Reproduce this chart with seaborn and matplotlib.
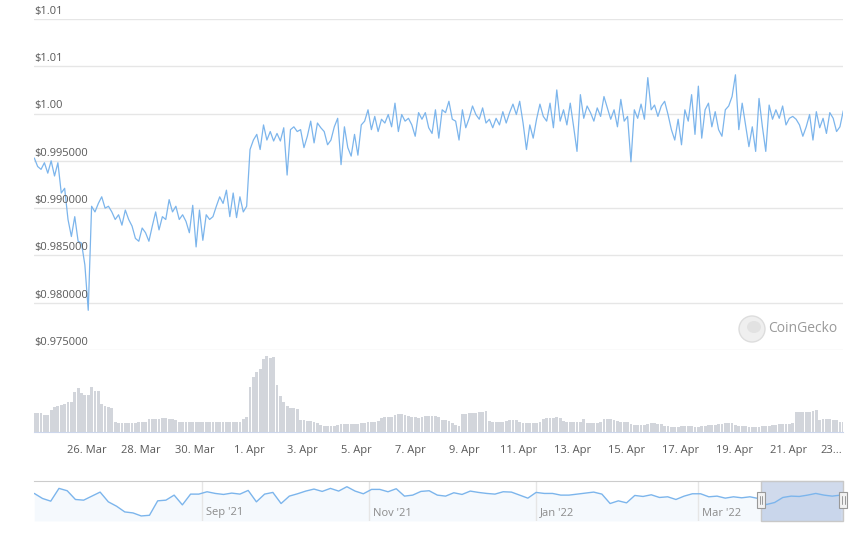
# -*- coding: utf-8 -*-
# Stablecoin price chart, CoinGecko style: price line, volume bars, navigator

import pandas as pd
import numpy as np
import matplotlib
matplotlib.use("Agg")
import matplotlib.pyplot as plt
import matplotlib.dates as mdates
import matplotlib.patches as mpatches
import matplotlib.transforms as mtransforms
import seaborn as sns

### data (3-hourly, from 24 Mar 2022 01:00) ###
price = [
    0.9953, 0.9944, 0.9941, 0.9948, 0.9937, 0.9950, 0.9934, 0.9948, 0.9916, 0.9921,
    0.9888, 0.9870, 0.9891, 0.9865, 0.9863, 0.9840, 0.9792, 0.9902, 0.9896, 0.9905,
    0.9912, 0.9900, 0.9902, 0.9896, 0.9888, 0.9893, 0.9882, 0.9898, 0.9888, 0.9881,
    0.9868, 0.9865, 0.9879, 0.9874, 0.9865, 0.9881, 0.9896, 0.9877, 0.9891, 0.9888,
    0.9909, 0.9896, 0.9902, 0.9888, 0.9893, 0.9886, 0.9874, 0.9903, 0.9859, 0.9898,
    0.9866, 0.9893, 0.9888, 0.9891, 0.9902, 0.9912, 0.9905, 0.9919, 0.9891, 0.9916,
    0.9890, 0.9912, 0.9896, 0.9902, 0.9962, 0.9972, 0.9978, 0.9962, 0.9988, 0.9972,
    0.9981, 0.9971, 0.9979, 0.9971, 0.9985, 0.9935, 0.9983, 0.9986, 0.9981, 0.9983,
    0.9964, 0.9976, 0.9992, 0.9969, 0.9990, 0.9985, 0.9981, 0.9967, 0.9972, 0.9986,
    0.9995, 0.9946, 0.9986, 0.9964, 0.9955, 0.9978, 0.9956, 0.9988, 0.9992, 1.0004,
    0.9983, 0.9997, 0.9981, 0.9994, 0.9990, 0.9999, 0.9986, 1.0011, 0.9981, 0.9999,
    0.9992, 0.9995, 0.9988, 0.9976, 1.0001, 0.9994, 1.0001, 0.9985, 0.9979, 1.0004,
    0.9974, 1.0004, 1.0001, 1.0013, 0.9994, 0.9992, 0.9972, 1.0004, 0.9985, 0.9995,
    1.0008, 0.9999, 0.9994, 1.0006, 0.9990, 0.9994, 0.9985, 0.9995, 0.9988, 1.0002,
    0.9990, 1.0001, 1.0010, 0.9999, 1.0013, 0.9990, 0.9962, 0.9988, 0.9974, 0.9994,
    1.0010, 0.9997, 0.9992, 1.0011, 0.9985, 1.0025, 0.9992, 1.0004, 0.9988, 1.0011,
    0.9986, 0.9960, 1.0020, 0.9995, 1.0008, 1.0001, 0.9992, 1.0006, 0.9997, 1.0018,
    1.0006, 0.9994, 1.0004, 0.9986, 1.0015, 0.9992, 0.9997, 0.9949, 1.0004, 0.9995,
    1.0010, 0.9994, 1.0038, 1.0004, 1.0009, 0.9997, 1.0008, 1.0013, 0.9999, 0.9983,
    0.9972, 0.9994, 0.9967, 1.0004, 0.9992, 1.0020, 0.9978, 1.0029, 0.9974, 1.0004,
    1.0011, 0.9986, 1.0002, 0.9983, 0.9976, 1.0004, 1.0008, 1.0018, 1.0041, 0.9983,
    1.0011, 0.9988, 0.9965, 0.9986, 0.9960, 1.0016, 0.9986, 0.9960, 1.0009, 0.9994,
    1.0004, 0.9995, 1.0008, 0.9988, 0.9995, 0.9997, 0.9994, 0.9988, 0.9976, 0.9986,
    0.9999, 0.9972, 1.0002, 0.9985, 0.9995, 0.9979, 1.0001, 0.9995, 0.9981, 0.9986,
    1.0003,
]

volume = [
    19, 19, 19, 17, 17, 22, 25, 26, 27, 28,
    30, 30, 40, 44, 39, 37, 37, 45, 41, 41,
    28, 26, 25, 24, 10, 9, 9, 9, 9, 9,
    9, 10, 10, 10, 13, 13, 13, 13, 14, 14,
    13, 13, 12, 10, 10, 10, 10, 10, 10, 10,
    10, 10, 10, 10, 10, 10, 10, 10, 10, 10,
    10, 10, 13, 15, 45, 55, 60, 63, 73, 76,
    74, 75, 47, 36, 30, 26, 24, 24, 23, 12,
    12, 11, 11, 10, 9, 7, 6, 6, 6, 6,
    7, 8, 8, 8, 8, 8, 8, 9, 9, 10,
    10, 10, 11, 14, 15, 15, 15, 17, 18, 18,
    17, 16, 15, 15, 14, 15, 16, 16, 16, 16,
    15, 12, 12, 11, 9, 7, 6, 18, 18, 19,
    19, 19, 20, 20, 21, 11, 10, 10, 10, 10,
    11, 12, 12, 12, 10, 9, 9, 9, 9, 9,
    10, 13, 14, 14, 14, 15, 14, 11, 10, 10,
    10, 10, 10, 13, 9, 9, 9, 9, 10, 13,
    13, 13, 12, 11, 10, 10, 10, 8, 7, 7,
    7, 7, 8, 9, 9, 8, 8, 6, 6, 5,
    5, 5, 6, 6, 6, 6, 5, 5, 6, 6,
    7, 7, 7, 8, 8, 9, 9, 9, 7, 6,
    6, 6, 5, 5, 5, 5, 6, 6, 6, 7,
    7, 8, 8, 8, 8, 9, 20, 20, 20, 20,
    20, 21, 22, 12, 13, 13, 13, 12, 12, 10,
    10,
]

# navigator series, every 3 days from 2 Jul 2021
nav_price = [
    1.0020, 0.9960, 0.9928, 1.0080, 1.0052, 0.9948, 0.9940, 0.9988, 1.0036, 0.9920,
    0.9868, 0.9800, 0.9788, 0.9752, 0.9760, 0.9932, 0.9940, 1.0000, 0.9884, 1.0012,
    1.0012, 1.0040, 1.0020, 1.0008, 1.0024, 1.0012, 1.0056, 0.9920, 1.0012, 1.0032,
    0.9900, 0.9988, 1.0016, 1.0048, 1.0072, 1.0044, 1.0080, 1.0048, 1.0100, 1.0048,
    1.0016, 1.0068, 1.0068, 1.0040, 1.0076, 0.9988, 1.0000, 1.0044, 1.0052, 1.0000,
    0.9988, 1.0028, 1.0008, 1.0048, 1.0032, 1.0020, 1.0012, 1.0040, 1.0036, 1.0000,
    0.9964, 1.0032, 1.0020, 1.0020, 1.0000, 1.0000, 1.0012, 1.0024, 1.0036, 1.0012,
    0.9900, 0.9932, 0.9908, 0.9996, 0.9984, 1.0004, 0.9972, 0.9980, 0.9948, 0.9988,
    1.0016, 1.0016, 0.9980, 0.9988, 0.9964, 0.9980, 0.9968, 0.9980, 0.9960, 0.9888,
    0.9912, 0.9972, 0.9988, 0.9984, 1.0000, 1.0020, 1.0000, 0.9988, 1.0000,
]

price_ticks = [0.975, 0.980, 0.985, 0.990, 0.995, 1.000, 1.005, 1.010]
date_ticks = pd.date_range("2022-03-26", "2022-04-23", freq="2D")
date_labels = [f"{d.day}. {d.strftime('%b')}" for d in date_ticks[:-1]] + ["23..."]
nav_months = pd.to_datetime(["2021-09-01", "2021-11-01", "2022-01-01", "2022-03-01"])
nav_labels = ["Sep '21", "Nov '21", "Jan '22", "Mar '22"]

times = mdates.date2num(pd.date_range("2022-03-24 01:00", periods=len(price), freq="3h"))
nav_x = mdates.date2num(pd.date_range("2021-07-02", periods=len(nav_price), freq="3D"))

def price_fmt(v):
    # >= 1 shown with 2 decimals (1.005 rounds up), below 1 with 6
    return f"${v + 1e-9:.2f}" if v >= 1 else f"${v:.6f}"

### style ###
sns.set_style("white")
plt.rcParams["font.family"] = ["Open Sans", "DejaVu Sans"]
line_col = "#7cb5ec"
grid_col = "#e6e6e6"
text_col = "#595959"

W, H = 868, 542
fig = plt.figure(figsize=(W / 100, H / 100), dpi=100)
x0, xw = 34.3 / W, 809 / W
ax = fig.add_axes([x0, (H - 350) / H, xw, 331 / H])
axv = fig.add_axes([x0, (H - 432) / H, xw, 82 / H], sharex=ax)
axn = fig.add_axes([x0, (H - 521) / H, xw, 40 / H])

### price ###
sns.lineplot(x=times, y=price, ax=ax, color=line_col, lw=0.9)
ax.set_xlim(times[0], times[-1])
ax.set_ylim(price_ticks[0], price_ticks[-1])
ax.set_yticks(price_ticks)
ax.grid(axis="y", color=grid_col, lw=1)
ax.grid(axis="x", visible=False)
ax.tick_params(left=False, labelleft=False, bottom=False, labelbottom=False)
for s in ax.spines.values():
    s.set_visible(False)
ax.set_xlabel("")
ax.set_ylabel("")
for v in price_ticks:
    ax.annotate(price_fmt(v), xy=(0, v), xycoords=("axes fraction", "data"),
                xytext=(0, 1.5), textcoords="offset points", ha="left", va="bottom",
                fontsize=8, color=text_col, annotation_clip=False)

### volume ###
axv.bar(times, volume, width=2.5 / 24, color="#d2d5db", lw=0, align="center")
axv.set_ylim(0, 82)
axv.set_yticks([])
for k in ["left", "right", "top"]:
    axv.spines[k].set_visible(False)
axv.spines["bottom"].set_color("#ccd6eb")
axv.set_xticks(mdates.date2num(date_ticks))
axv.set_xticklabels(date_labels)
axv.get_xticklabels()[-1].set_ha("right")
axv.tick_params(axis="x", length=8, color="#ccd6eb", labelsize=8, labelcolor=text_col, pad=1.5)
axv.set_xlim(times[0], times[-1])

### navigator ###
nav_lo, nav_hi = 0.9692, 1.0168
axn.axvspan(times[0], times[-1], color="#6685c2", alpha=0.3, lw=0, zorder=1)
axn.fill_between(nav_x, nav_price, nav_lo, color=line_col, alpha=0.07, lw=0, zorder=0)
sns.lineplot(x=nav_x, y=nav_price, ax=axn, color=line_col, lw=1, zorder=2)
axn.set_xlim(mdates.date2num(pd.Timestamp("2021-07-02")), mdates.date2num(pd.Timestamp("2022-04-23 01:00")))
axn.set_ylim(nav_lo, nav_hi)
axn.set_xticks([])
axn.set_yticks([])
axn.set_xlabel("")
axn.set_ylabel("")
for k in ["left", "right", "bottom"]:
    axn.spines[k].set_visible(False)
axn.spines["top"].set_color("#cccccc")
for m, lab in zip(mdates.date2num(nav_months), nav_labels):
    axn.axvline(m, color=grid_col, lw=1, zorder=0)
    axn.annotate(lab, xy=(m, 0.2), xycoords=("data", "axes fraction"), xytext=(3, 0),
                 textcoords="offset points", ha="left", va="center", fontsize=8, color="#8c8c8c")

# selection outline and handles
blend = mtransforms.blended_transform_factory(axn.transData, axn.transAxes)
axn.add_patch(mpatches.Rectangle((times[0], 0), times[-1] - times[0], 1, transform=blend,
                                 fill=False, ec="#c8c8c8", lw=1, clip_on=False, zorder=3))
for hx in [times[0], times[-1]]:
    axn.add_patch(mpatches.Rectangle((hx - 1.45, 0.33), 2.9, 0.39, transform=blend, fc="#f2f2f2",
                                     ec="#999999", lw=0.8, clip_on=False, zorder=4))
    for dx in [-0.45, 0.45]:
        axn.plot([hx + dx, hx + dx], [0.43, 0.62], transform=blend, color="#999999", lw=0.7,
                 clip_on=False, zorder=5)

### watermark ###
fig.patches.append(mpatches.Ellipse((752 / W, (H - 329) / H), 26 / W, 26 / H, transform=fig.transFigure,
                                    fc="#efefef", ec="#dddddd", lw=1))
fig.patches.append(mpatches.Ellipse((754 / W, (H - 327) / H), 14 / W, 12 / H, transform=fig.transFigure,
                                    fc="#e2e2e2", ec="none"))
fig.text(768 / W, (H - 328) / H, "CoinGecko", fontsize=10, color="#9a9a9a", ha="left", va="center")

plt.savefig("out.png", dpi=100)
